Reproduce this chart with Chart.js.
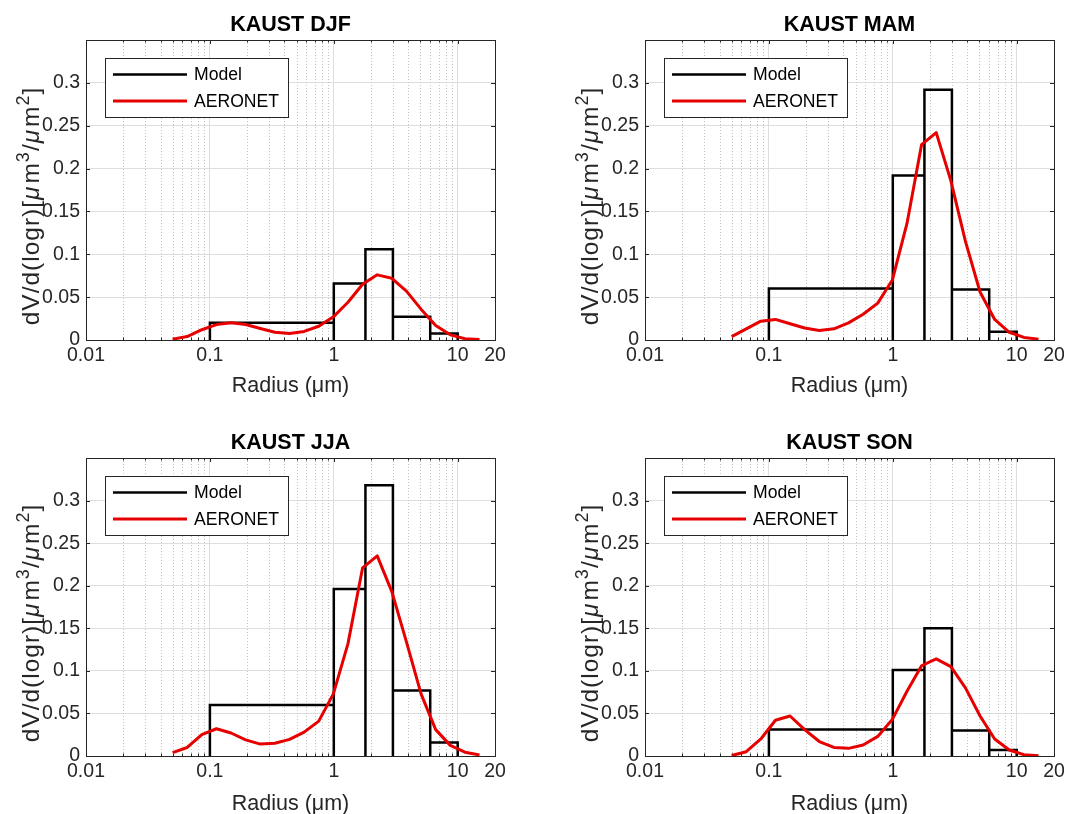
<!DOCTYPE html>
<html>
<head>
<meta charset="utf-8">
<script src="https://cdn.jsdelivr.net/npm/chart.js@4.4.1/dist/chart.umd.min.js"></script>
<style>
  html, body { margin: 0; background: #fff; }
  body { width: 1088px; height: 814px; position: relative; overflow: hidden; }
  canvas { position: absolute; }
</style>
</head>
<body>
<canvas id="djf" width="544" height="407" style="left:0;top:0"></canvas>
<canvas id="mam" width="529" height="407" style="left:559px;top:0"></canvas>
<canvas id="jja" width="544" height="407" style="left:0;top:418px"></canvas>
<canvas id="son" width="529" height="407" style="left:559px;top:418px"></canvas>
<script>
// AERONET inversion radius bins (um)
const aeronetRadius = [0.05, 0.0656, 0.0861, 0.1129, 0.1482, 0.1944, 0.2551, 0.3347, 0.4392, 0.5762, 0.7561,
  0.9920, 1.3016, 1.7078, 2.2407, 2.9400, 3.8575, 5.0613, 6.6407, 8.7131, 11.4323, 15.0];
// model dust bin edges (um)
const binEdges = [0.1, 1.0, 1.8, 3.0, 6.0, 10.0];

const modelDJF = [0.020, 0.066, 0.106, 0.027, 0.0075];
const modelMAM = [0.060, 0.192, 0.292, 0.059, 0.0095];
const modelJJA = [0.060, 0.196, 0.318, 0.077, 0.016];
const modelSON = [0.031, 0.101, 0.150, 0.030, 0.007];

const aeronetDJF = [0.001, 0.004, 0.012, 0.018, 0.020, 0.018, 0.0135, 0.009, 0.0075, 0.010, 0.016,
  0.027, 0.044, 0.065, 0.076, 0.072, 0.057, 0.036, 0.017, 0.006, 0.0015, 0.0005];
const aeronetMAM = [0.004, 0.013, 0.022, 0.024, 0.019, 0.014, 0.011, 0.013, 0.020, 0.030, 0.043,
  0.070, 0.136, 0.228, 0.242, 0.186, 0.115, 0.056, 0.024, 0.009, 0.003, 0.001];
const aeronetJJA = [0.004, 0.010, 0.025, 0.032, 0.027, 0.019, 0.014, 0.015, 0.0195, 0.028, 0.041,
  0.073, 0.132, 0.221, 0.235, 0.193, 0.134, 0.073, 0.031, 0.0125, 0.0045, 0.0012];
const aeronetSON = [0.0005, 0.005, 0.020, 0.042, 0.047, 0.031, 0.017, 0.010, 0.009, 0.013, 0.023,
  0.043, 0.076, 0.106, 0.114, 0.105, 0.080, 0.047, 0.020, 0.007, 0.0015, 0.0003];

const xTicks = [0.01, 0.1, 1, 10, 20];
const yTicks = [0, 0.05, 0.1, 0.15, 0.2, 0.25, 0.3];

const FONT = '"Liberation Sans", Arial, Helvetica, sans-serif';
const AXIS_COLOR = '#262626';

// y label pieces: [text, style]
const yLabelParts = [['dV/d(logr)[', ''], ['μ', 'italic '], ['m', ''], ['3', 'sup'], ['/', ''],
  ['μ', 'italic '], ['m', ''], ['2', 'sup'], [']', '']];

// minor positions of the log axis: 2..9 x each decade
const xMinor = [];
for (const d of [0.01, 0.1, 1]) for (let k = 2; k <= 9; k++) xMinor.push(+(k * d).toPrecision(3));

// bar outline of the model bins, traced as one polyline
function outline(edges, values) {
  const pts = [];
  values.forEach((v, i) => {
    pts.push({x: edges[i], y: 0}, {x: edges[i], y: v}, {x: edges[i + 1], y: v}, {x: edges[i + 1], y: 0});
  });
  return pts;
}

// dotted minor grid, box and inward tick marks
const frame = {
  id: 'frame',
  beforeDatasetsDraw(chart) {
    const {ctx, chartArea: a, scales: {x, y}} = chart;
    ctx.save();
    ctx.strokeStyle = '#c4c4c4';
    ctx.lineWidth = 1;
    ctx.setLineDash([1, 2]);
    for (const v of xMinor) {
      const px = Math.round(x.getPixelForValue(v)) + 0.5;
      ctx.beginPath(); ctx.moveTo(px, a.top); ctx.lineTo(px, a.bottom); ctx.stroke();
    }
    ctx.setLineDash([]);
    ctx.strokeStyle = AXIS_COLOR;
    ctx.beginPath();
    for (const v of yTicks) {
      const py = Math.round(y.getPixelForValue(v)) + 0.5;
      ctx.moveTo(a.left, py); ctx.lineTo(a.left + 4, py);
      ctx.moveTo(a.right, py); ctx.lineTo(a.right - 4, py);
    }
    for (const v of xTicks) {
      const px = Math.round(x.getPixelForValue(v)) + 0.5;
      ctx.moveTo(px, a.bottom); ctx.lineTo(px, a.bottom - 4);
      ctx.moveTo(px, a.top); ctx.lineTo(px, a.top + 4);
    }
    for (const v of xMinor) {
      const px = Math.round(x.getPixelForValue(v)) + 0.5;
      ctx.moveTo(px, a.bottom); ctx.lineTo(px, a.bottom - 2.5);
      ctx.moveTo(px, a.top); ctx.lineTo(px, a.top + 2.5);
    }
    ctx.stroke();
    ctx.strokeRect(Math.round(a.left) + 0.5, Math.round(a.top) + 0.5,
      Math.round(a.right - a.left), Math.round(a.bottom - a.top));
    ctx.restore();
  }
};

// boxed legend in the upper-left corner of the plot
const legendBox = {
  id: 'legendBox',
  afterDatasetsDraw(chart) {
    const {ctx, chartArea: a} = chart;
    const x0 = Math.round(a.left) + 19, y0 = Math.round(a.top) + 18;
    ctx.save();
    ctx.fillStyle = '#fff';
    ctx.fillRect(x0, y0, 183, 59);
    ctx.strokeStyle = AXIS_COLOR;
    ctx.lineWidth = 1;
    ctx.strokeRect(x0 + 0.5, y0 + 0.5, 183, 59);
    ctx.font = '17.6px ' + FONT;
    ctx.textBaseline = 'middle';
    ['Model', 'AERONET'].forEach((name, i) => {
      const ds = chart.data.datasets.find(d => d.label === name);
      const ly = y0 + 16.5 + i * 26.5;
      ctx.strokeStyle = ds.borderColor;
      ctx.lineWidth = ds.borderWidth;
      ctx.beginPath(); ctx.moveTo(x0 + 8, ly); ctx.lineTo(x0 + 82, ly); ctx.stroke();
      ctx.fillStyle = '#000';
      ctx.fillText(name, x0 + 89, ly + 1);
    });
    ctx.restore();
  }
};

// rotated y label with superscripts
const yTitle = {
  id: 'yTitle',
  afterDraw(chart) {
    const {ctx, chartArea: a} = chart;
    const size = 24.5, supSize = 18;
    const fontOf = p => (p[1] === 'sup' ? supSize + 'px ' : p[1] + size + 'px ') + FONT;
    ctx.save();
    if ('letterSpacing' in ctx) ctx.letterSpacing = '1px';
    let total = 0;
    const widths = yLabelParts.map(p => {
      ctx.font = fontOf(p);
      const w = ctx.measureText(p[0]).width + (p[1] === 'italic ' ? 2 : 0);
      total += w;
      return w;
    });
    ctx.translate(a.left - 47, (a.top + a.bottom) / 2 + 16);
    ctx.rotate(-Math.PI / 2);
    ctx.fillStyle = AXIS_COLOR;
    ctx.textBaseline = 'alphabetic';
    let cx = -total / 2;
    yLabelParts.forEach((p, i) => {
      ctx.font = fontOf(p);
      ctx.fillText(p[0], cx, p[1] === 'sup' ? -size * 0.42 : 0);
      cx += widths[i];
    });
    ctx.restore();
  }
};

function makeChart(id, title, model, aeronet, plotHeight) {
  const canvas = document.getElementById(id);
  new Chart(canvas, {
    type: 'line',
    data: {
      datasets: [
        {
          label: 'Model',
          data: outline(binEdges, model),
          borderColor: '#000000',
          borderWidth: 2.5,
          borderJoinStyle: 'miter',
          pointRadius: 0,
          order: 1
        },
        {
          label: 'AERONET',
          data: aeronetRadius.map((r, i) => ({x: r, y: aeronet[i]})),
          borderColor: '#e60000',
          borderWidth: 3,
          borderJoinStyle: 'round',
          pointRadius: 0,
          order: 0
        }
      ]
    },
    options: {
      responsive: false,
      animation: false,
      events: [],
      layout: {padding: {left: 0, right: canvas.width - 495, top: 0, bottom: 0}},
      plugins: {
        legend: {display: false},
        tooltip: {enabled: false},
        title: {
          display: true,
          text: title,
          fullSize: false,
          color: '#000',
          font: {family: FONT, size: 21.5, weight: 'bold'},
          padding: {top: 12, bottom: 40 - 12 - 25.8}
        }
      },
      scales: {
        x: {
          type: 'logarithmic',
          min: 0.01,
          max: 20,
          afterBuildTicks: s => { s.ticks = xTicks.map(v => ({value: v})); },
          afterFit: s => { s.height = 407 - 40 - plotHeight; },
          border: {display: false},
          grid: {color: '#dedede', lineWidth: 1, drawTicks: false},
          ticks: {
            autoSkip: false, maxRotation: 0, padding: 4,
            color: AXIS_COLOR, font: {family: FONT, size: 19.5},
            callback: v => String(v)
          },
          title: {
            display: true, text: 'Radius (μm)', color: AXIS_COLOR,
            font: {family: FONT, size: 21.5}, padding: {top: 0, bottom: 8}
          }
        },
        y: {
          min: 0,
          max: 0.35,
          afterBuildTicks: s => { s.ticks = yTicks.concat([0.35]).map(v => ({value: v})); },
          afterFit: s => { s.width = 86; },
          border: {display: false},
          grid: {color: '#dedede', lineWidth: 1, drawTicks: false},
          ticks: {
            padding: 6, color: AXIS_COLOR, font: {family: FONT, size: 19.5},
            callback: v => (v > 0.33 ? '' : String(+v.toFixed(2)))
          }
        }
      }
    },
    plugins: [frame, legendBox, yTitle]
  });
}

makeChart('djf', 'KAUST DJF', modelDJF, aeronetDJF, 300);
makeChart('mam', 'KAUST MAM', modelMAM, aeronetMAM, 300);
makeChart('jja', 'KAUST JJA', modelJJA, aeronetJJA, 298);
makeChart('son', 'KAUST SON', modelSON, aeronetSON, 298);
</script>
</body>
</html>
